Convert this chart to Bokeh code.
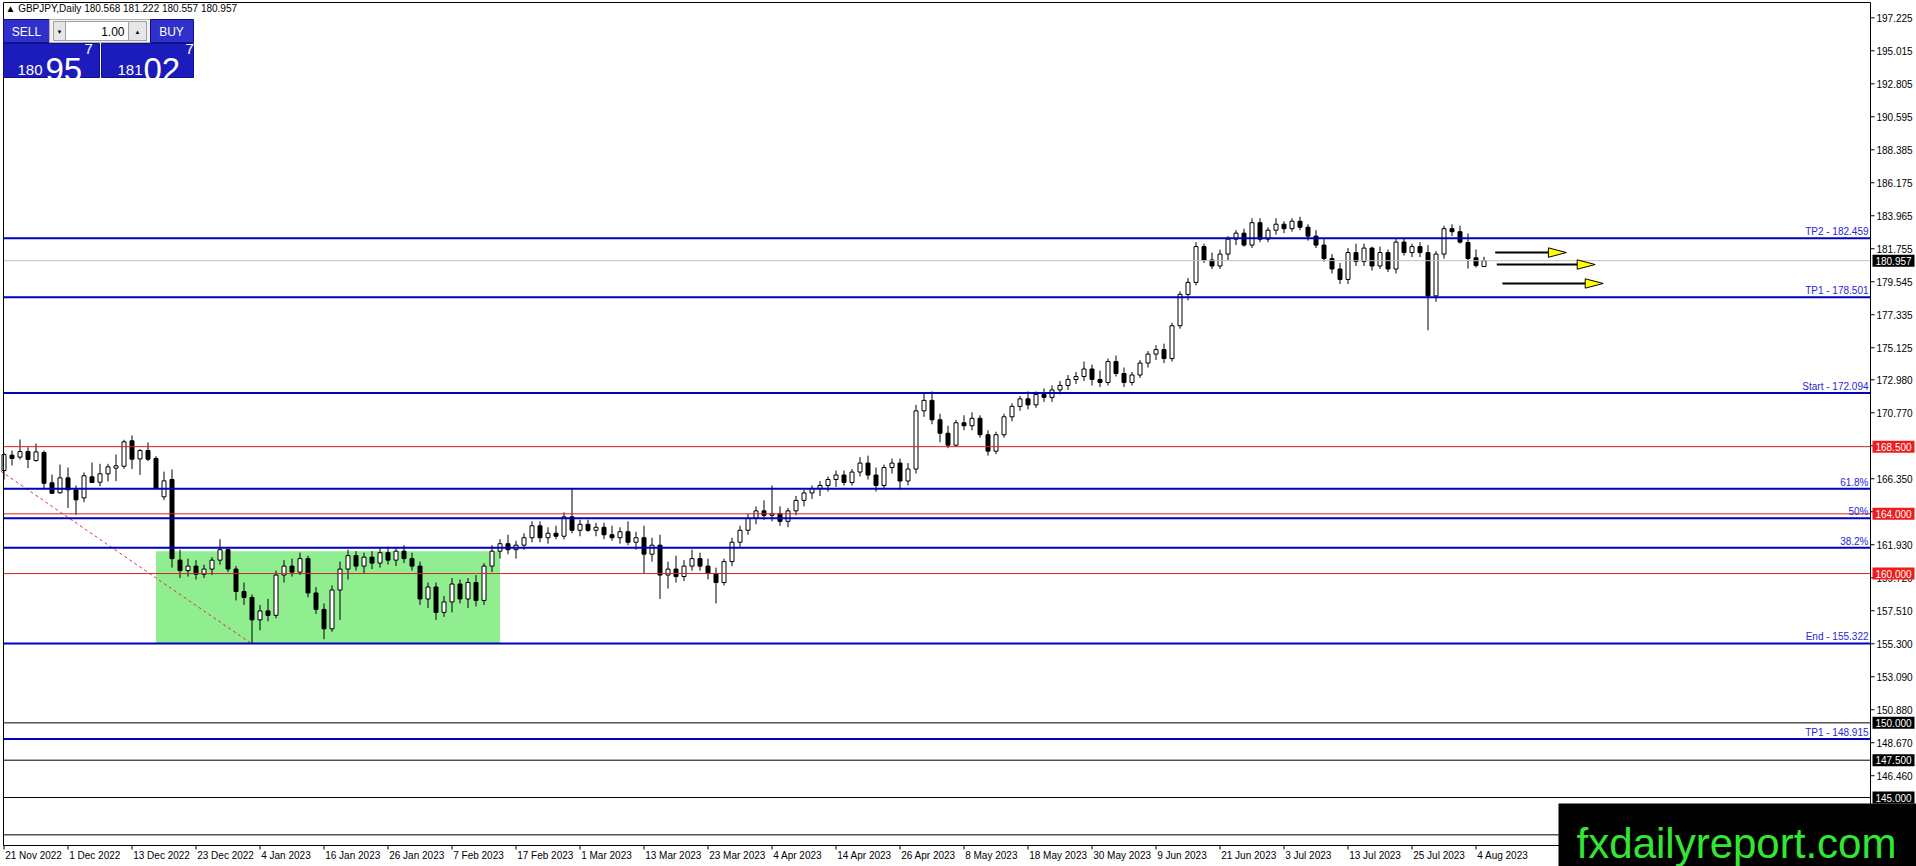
from bokeh.plotting import figure
from bokeh.models import ColumnDataSource
from bokeh.core.properties import value
from bokeh.embed import file_html
from bokeh.resources import INLINE

FONT = "Liberation Sans"

# GBPJPY daily bars, 21 Nov 2022 .. 7 Aug 2023 (one row = 8 bars)
opens = [
    166.90, 167.93, 167.80, 168.17, 167.57, 168.11, 166.08, 165.41,
    166.41, 165.61, 165.07, 166.48, 166.12, 166.68, 167.06, 167.19,
    168.89, 167.68, 168.24, 167.71, 165.14, 166.30, 160.90, 160.20,
    160.50, 159.95, 160.30, 160.90, 161.60, 160.30, 158.80, 158.40,
    156.90, 157.50, 157.20, 159.90, 160.50, 160.10, 161.00, 158.70,
    157.60, 156.30, 158.90, 160.30, 161.20, 160.50, 161.10, 160.70,
    161.40, 160.90, 161.50, 161.00, 160.50, 158.30, 159.10, 157.40,
    158.10, 159.30, 158.30, 159.40, 158.20, 160.50, 161.50, 162.00,
    161.60, 161.90, 162.40, 163.20, 162.40, 162.70, 162.50, 163.80,
    162.90, 163.30, 162.90, 163.10, 162.60, 162.40, 162.80, 162.10,
    162.40, 161.30, 161.90, 159.90, 160.30, 159.80, 160.50, 161.00,
    160.50, 160.00, 159.40, 160.80, 162.10, 162.90, 163.70, 164.20,
    163.90, 164.00, 163.50, 164.20, 164.90, 165.40, 165.70, 165.90,
    166.30, 166.60, 166.10, 166.80, 167.40, 166.60, 165.90, 167.10,
    167.40, 166.20, 167.00, 170.90, 171.60, 170.30, 169.40, 168.60,
    170.10, 169.90, 170.40, 169.30, 168.20, 169.30, 170.50, 171.20,
    171.70, 171.30, 172.00, 171.80, 172.30, 172.60, 173.00, 173.20,
    173.70, 173.00, 172.80, 174.20, 173.40, 172.80, 173.30, 174.10,
    174.70, 175.00, 174.40, 176.60, 178.70, 179.50, 181.90, 181.00,
    180.60, 181.40, 182.40, 182.80, 182.00, 183.50, 182.40, 183.00,
    183.40, 183.10, 183.60, 183.20, 182.60, 182.00, 181.10, 180.40,
    179.70, 181.50, 180.90, 181.80, 180.60, 181.50, 180.40, 182.20,
    181.50, 181.90, 181.50, 178.60, 181.40, 183.10, 182.90, 182.17,
    181.15, 180.568,
]
highs = [
    168.10, 168.24, 168.98, 168.46, 168.71, 168.24, 166.63, 167.30,
    167.10, 165.90, 166.77, 167.44, 167.35, 167.35, 167.97, 168.96,
    169.25, 168.33, 168.78, 167.86, 166.83, 166.97, 161.60, 161.00,
    160.90, 160.60, 161.10, 162.30, 161.70, 160.50, 159.40, 158.60,
    157.90, 158.30, 160.20, 160.90, 161.00, 161.40, 161.20, 159.10,
    158.00, 159.20, 160.80, 161.60, 161.50, 161.40, 161.50, 161.70,
    161.80, 161.70, 161.90, 161.40, 160.80, 159.40, 159.40, 158.50,
    159.70, 159.60, 159.70, 159.90, 160.70, 161.90, 162.30, 162.60,
    162.20, 162.70, 163.50, 163.50, 163.10, 163.20, 164.10, 165.70,
    163.60, 163.60, 163.40, 163.40, 163.20, 163.10, 163.50, 162.80,
    163.20, 162.40, 162.60, 160.80, 161.20, 160.90, 161.60, 161.40,
    161.00, 160.40, 161.00, 162.40, 163.20, 164.00, 164.50, 164.90,
    165.90, 164.50, 164.40, 165.20, 165.60, 165.90, 166.20, 166.50,
    166.90, 166.90, 167.00, 167.80, 167.90, 167.10, 167.30, 167.70,
    167.70, 167.40, 171.30, 172.10, 172.20, 170.70, 169.90, 170.30,
    170.60, 170.80, 170.60, 169.60, 169.50, 170.70, 171.40, 171.90,
    172.20, 172.20, 172.40, 172.60, 172.90, 173.30, 173.50, 174.20,
    174.00, 173.60, 174.40, 174.60, 173.80, 173.50, 174.30, 174.90,
    175.30, 175.40, 176.80, 178.90, 179.80, 182.20, 182.10, 181.50,
    181.70, 182.60, 183.00, 183.10, 183.80, 183.80, 183.20, 183.80,
    183.60, 183.80, 183.90, 183.40, 183.00, 182.40, 181.40, 180.80,
    181.80, 182.10, 182.10, 181.90, 181.90, 181.70, 182.40, 182.50,
    182.10, 182.20, 182.00, 181.60, 183.30, 183.40, 183.30, 182.78,
    181.71, 181.222,
]
lows = [
    166.30, 167.24, 167.64, 167.06, 167.50, 165.70, 165.35, 165.35,
    164.40, 163.93, 164.78, 166.08, 165.85, 166.17, 166.19, 167.01,
    167.01, 166.61, 167.53, 165.65, 164.92, 160.40, 159.70, 159.80,
    159.60, 159.70, 159.90, 160.60, 160.10, 158.20, 157.90, 155.32,
    156.20, 156.80, 157.00, 159.40, 159.80, 159.90, 158.40, 157.30,
    155.60, 156.10, 156.90, 159.60, 160.20, 160.00, 160.30, 160.40,
    160.60, 160.50, 160.70, 160.20, 157.90, 157.70, 156.90, 157.10,
    157.40, 158.00, 157.70, 157.80, 157.90, 160.10, 161.00, 161.30,
    161.00, 161.60, 162.10, 162.10, 162.00, 162.30, 162.30, 162.70,
    162.50, 162.80, 162.50, 162.30, 162.20, 162.00, 161.90, 161.60,
    160.00, 160.80, 158.30, 159.00, 159.40, 159.50, 160.20, 160.20,
    159.60, 158.00, 159.20, 160.50, 161.80, 162.60, 163.30, 163.60,
    163.50, 163.20, 163.10, 163.90, 164.50, 165.00, 165.20, 165.50,
    165.80, 165.90, 165.90, 166.50, 166.30, 165.50, 165.70, 166.70,
    165.60, 165.90, 166.70, 170.50, 170.00, 168.80, 168.40, 168.50,
    169.60, 169.60, 169.10, 167.90, 168.00, 169.10, 170.20, 170.90,
    171.00, 171.10, 171.50, 171.50, 172.00, 172.30, 172.70, 172.90,
    172.60, 172.50, 172.60, 173.20, 172.50, 172.60, 173.10, 173.80,
    174.30, 174.10, 174.20, 176.40, 178.30, 179.30, 180.80, 180.40,
    180.40, 181.00, 182.00, 181.90, 181.80, 182.20, 182.20, 182.70,
    182.80, 182.90, 183.00, 182.30, 181.80, 180.90, 180.10, 179.40,
    179.40, 180.60, 180.60, 180.30, 180.40, 180.20, 180.10, 181.30,
    181.20, 181.20, 176.30, 178.20, 181.10, 182.60, 182.10, 180.43,
    180.50, 180.557,
]
closes = [
    167.97, 167.71, 168.17, 167.64, 168.15, 166.05, 165.38, 166.41,
    165.61, 164.94, 166.55, 166.10, 166.68, 167.15, 167.22, 168.82,
    167.66, 168.24, 167.66, 165.72, 166.21, 161.00, 160.20, 160.50,
    159.95, 160.30, 160.90, 161.60, 160.30, 158.80, 158.40, 156.90,
    157.50, 157.20, 159.90, 160.50, 160.10, 161.00, 158.70, 157.60,
    156.30, 158.90, 160.30, 161.20, 160.50, 161.10, 160.70, 161.40,
    160.90, 161.50, 161.00, 160.50, 158.30, 159.10, 157.40, 158.10,
    159.30, 158.30, 159.40, 158.20, 160.50, 161.50, 162.00, 161.60,
    161.90, 162.40, 163.20, 162.40, 162.70, 162.50, 163.80, 162.90,
    163.30, 162.90, 163.10, 162.60, 162.40, 162.80, 162.10, 162.40,
    161.30, 161.90, 159.90, 160.30, 159.80, 160.50, 161.00, 160.50,
    160.00, 159.40, 160.80, 162.10, 162.90, 163.70, 164.20, 163.90,
    164.00, 163.50, 164.20, 164.90, 165.40, 165.70, 165.90, 166.30,
    166.60, 166.10, 166.80, 167.40, 166.60, 165.90, 167.10, 167.40,
    166.20, 167.00, 170.90, 171.60, 170.30, 169.40, 168.60, 170.10,
    169.90, 170.40, 169.30, 168.20, 169.30, 170.50, 171.20, 171.70,
    171.30, 172.00, 171.80, 172.30, 172.60, 173.00, 173.20, 173.70,
    173.00, 172.80, 174.20, 173.40, 172.80, 173.30, 174.10, 174.70,
    175.00, 174.40, 176.60, 178.70, 179.50, 181.90, 181.00, 180.60,
    181.40, 182.40, 182.80, 182.00, 183.50, 182.40, 183.00, 183.40,
    183.10, 183.60, 183.20, 182.60, 182.00, 181.10, 180.40, 179.70,
    181.50, 180.90, 181.80, 180.60, 181.50, 180.40, 182.20, 181.50,
    181.90, 181.50, 178.60, 181.40, 183.10, 182.90, 182.20, 181.10,
    180.63, 180.957,
]

date_bars = list(range(0, 185, 8))
date_labels = ["21 Nov 2022", "1 Dec 2022", "13 Dec 2022", "23 Dec 2022", "4 Jan 2023",
               "16 Jan 2023", "26 Jan 2023", "7 Feb 2023", "17 Feb 2023", "1 Mar 2023",
               "13 Mar 2023", "23 Mar 2023", "4 Apr 2023", "14 Apr 2023", "26 Apr 2023",
               "8 May 2023", "18 May 2023", "30 May 2023", "9 Jun 2023", "21 Jun 2023",
               "3 Jul 2023", "13 Jul 2023", "25 Jul 2023", "4 Aug 2023"]

price_ticks = [197.225, 195.015, 192.805, 190.595, 188.385, 186.175, 183.965, 181.755,
               179.545, 177.335, 175.125, 172.980, 170.770, 168.560, 166.350, 164.140,
               161.930, 159.720, 157.510, 155.300, 153.090, 150.880, 148.670, 146.460,
               144.250]

level_prices = [182.459, 178.501, 172.094, 165.687, 163.708, 161.729, 155.322, 148.915]
level_labels = ["TP2 - 182.459", "TP1 - 178.501", "Start - 172.094", "61.8%", "50%",
                "38.2%", "End - 155.322", "TP1 - 148.915"]
red_levels = [168.5, 164.0, 160.0]
black_levels = [150.0, 147.5, 145.0, 142.5]
last_price = 180.957

zone_bars = [19, 62]
zone_prices = [155.322, 161.49]
fib_anchor_bars = [-14.6, 30.9]
fib_anchor_prices = [172.094, 155.322]

arrow_start_bars = [186.4, 186.6, 187.3]
arrow_tip_bars = [195.3, 198.9, 199.9]
arrow_prices = [181.50, 180.70, 179.43]

# ---- layout: the frame fills the page; 8 px per bar, 14.93 px per yen
W, H = 1916, 866
PX_BAR, PX_PRICE = 8.0, 14.93


def gx(px):
    return (px - 3.5) / PX_BAR


def gy(pix):
    return 197.225 - (pix - 17.3) / PX_PRICE


X_LEFT, X_AXIS = gx(3), gx(1870)
Y_TOP, Y_BOTTOM = gy(2), gy(845)

p = figure(width=W, height=H, x_range=(gx(0), gx(W)), y_range=(gy(H), gy(0)), title=None,
           x_axis_location=None, y_axis_location=None,
           output_backend="svg", toolbar_location=None,
           min_border_left=0, min_border_top=0, min_border_right=0, min_border_bottom=0,
           outline_line_color=None, background_fill_color="white", border_fill_color="white")
p.grid.visible = False

# zone + fib base line
p.quad(left=[zone_bars[0]], right=[zone_bars[1]], bottom=[zone_prices[0]], top=[zone_prices[1]],
       fill_color="#90ee90", line_color=None)
p.line(fib_anchor_bars, fib_anchor_prices, line_color="#e03030", line_width=1, line_dash="3 3")

# candles
bars = list(range(len(opens)))
src = ColumnDataSource(dict(
    x=bars, l=lows, h=highs,
    top=[max(o, c) for o, c in zip(opens, closes)],
    bottom=[min(o, c) for o, c in zip(opens, closes)],
    fill=["white" if c >= o else "black" for o, c in zip(opens, closes)],
))
p.segment(x0="x", y0="l", x1="x", y1="h", source=src, line_color="black", line_width=1)
p.vbar(x="x", width=0.5, top="top", bottom="bottom", fill_color="fill",
       line_color="black", line_width=1, source=src)


# horizontal levels
def hlines(levels, color, width):
    p.segment(x0=[X_LEFT] * len(levels), y0=levels, x1=[X_AXIS] * len(levels), y1=levels,
              line_color=color, line_width=width)


hlines([last_price], "#c0c0c0", 1)
hlines(black_levels, "black", 1)
hlines(red_levels, "#d42020", 1)
hlines(level_prices, "#0000c0", 2)

p.text(x=[gx(1868)] * len(level_prices), y=level_prices, text=level_labels,
       text_align="right", text_baseline="bottom", y_offset=-1,
       text_font=value(FONT), text_font_size="10px", text_color="#2626d8")

# arrows
HEAD_LEN = 18 / PX_BAR
HEAD_HALF = 4.7 / PX_PRICE
p.segment(x0=arrow_start_bars, y0=arrow_prices,
          x1=[t - HEAD_LEN for t in arrow_tip_bars], y1=arrow_prices,
          line_color="black", line_width=2)
p.patches(xs=[[t - HEAD_LEN, t, t - HEAD_LEN] for t in arrow_tip_bars],
          ys=[[v + HEAD_HALF, v, v - HEAD_HALF] for v in arrow_prices],
          fill_color="#ffff00", line_color="black", line_width=1)

# chart border and axes
p.segment(x0=[X_LEFT, X_LEFT, X_AXIS, X_LEFT], y0=[Y_TOP, Y_BOTTOM, Y_BOTTOM, Y_BOTTOM],
          x1=[X_AXIS, X_AXIS, X_AXIS, X_LEFT], y1=[Y_TOP, Y_BOTTOM, Y_TOP, Y_TOP],
          line_color="black", line_width=1)
p.segment(x0=[X_AXIS] * len(price_ticks), y0=price_ticks,
          x1=[gx(1874)] * len(price_ticks), y1=price_ticks, line_color="black", line_width=1)
p.text(x=[gx(1876)] * len(price_ticks), y=price_ticks, text=[f"{v:.3f}" for v in price_ticks],
       text_align="left", text_baseline="middle", text_font=value(FONT),
       text_font_size="10px", text_color="black")
p.segment(x0=date_bars, y0=[Y_BOTTOM] * len(date_bars), x1=date_bars,
          y1=[gy(849)] * len(date_bars), line_color="black", line_width=1)
p.text(x=[b + 0.15 for b in date_bars], y=[gy(855)] * len(date_bars), text=date_labels,
       text_align="left", text_baseline="middle", text_font=value(FONT),
       text_font_size="10px", text_color="black")

# price boxes on the axis
box_prices = [last_price] + red_levels + black_levels[:3]
box_colors = ["black"] + ["#ee1c1c"] * len(red_levels) + ["black"] * 3
BOX_HALF = 6 / PX_PRICE
p.quad(left=[gx(1872)] * len(box_prices), right=[gx(1914)] * len(box_prices),
       top=[v + BOX_HALF for v in box_prices], bottom=[v - BOX_HALF for v in box_prices],
       fill_color=box_colors, line_color=None)
p.text(x=[gx(1893)] * len(box_prices), y=box_prices, text=[f"{v:.3f}" for v in box_prices],
       text_align="center", text_baseline="middle", text_font=value(FONT),
       text_font_size="10px", text_color="white")

# header
p.text(x=[gx(5)], y=[gy(8)], text=["\u25b2 GBPJPY,Daily  180.568 181.222 180.557 180.957"],
       text_align="left", text_baseline="middle", text_font=value(FONT),
       text_font_size="10px", text_color="black")

# one-click trading panel
p.quad(left=[gx(3), gx(49), gx(150), gx(3), gx(101)],
       right=[gx(49), gx(150), gx(193), gx(99), gx(193)],
       top=[gy(19), gy(19), gy(19), gy(43), gy(43)],
       bottom=[gy(42), gy(42), gy(42), gy(77), gy(77)],
       fill_color=["#3030cc", "#f2f2f2", "#3030cc", "#1c1cbc", "#1c1cbc"],
       line_color=["#10108a", "#b0b0b0", "#10108a", "#10108a", "#10108a"])
p.quad(left=[gx(53), gx(65), gx(128)], right=[gx(65), gx(128), gx(146)],
       top=[gy(21)] * 3, bottom=[gy(40)] * 3,
       fill_color=["#e6e6e6", "white", "#e6e6e6"], line_color="#a0a0a0")
p.text(x=[gx(26), gx(171)], y=[gy(31)] * 2, text=["SELL", "BUY"], text_align="center",
       text_baseline="middle", text_font=value(FONT), text_font_size="12px", text_color="white")
p.text(x=[gx(59), gx(137)], y=[gy(31)] * 2, text=["\u25bc", "\u25b2"], text_align="center",
       text_baseline="middle", text_font=value(FONT), text_font_size="6px", text_color="black")
p.text(x=[gx(124)], y=[gy(31)], text=["1.00"], text_align="right", text_baseline="middle",
       text_font=value(FONT), text_font_size="12px", text_color="black")
p.text(x=[gx(17), gx(117)], y=[gy(69)] * 2, text=["180", "181"], text_align="left",
       text_baseline="alphabetic", text_font=value(FONT), text_font_size="15px", text_color="white")
p.text(x=[gx(45), gx(143)], y=[gy(69)] * 2, text=["95", "02"], text_align="left",
       text_baseline="alphabetic", text_font=value(FONT), text_font_size="33px", text_color="white")
p.text(x=[gx(84), gx(185)], y=[gy(43)] * 2, text=["7", "7"], text_align="left",
       text_baseline="top", text_font=value(FONT), text_font_size="15px", text_color="white")

# watermark
p.quad(left=[gx(1558)], right=[gx(1916)], top=[gy(803)], bottom=[gy(866)],
       fill_color="black", line_color=None)
p.text(x=[gx(1736)], y=[gy(843)], text=["fxdailyreport.com"], text_align="center",
       text_baseline="alphabetic", text_font=value(FONT), text_font_size="42px",
       text_color="#33e633")

open("out.html", "w").write(file_html(p, INLINE))
